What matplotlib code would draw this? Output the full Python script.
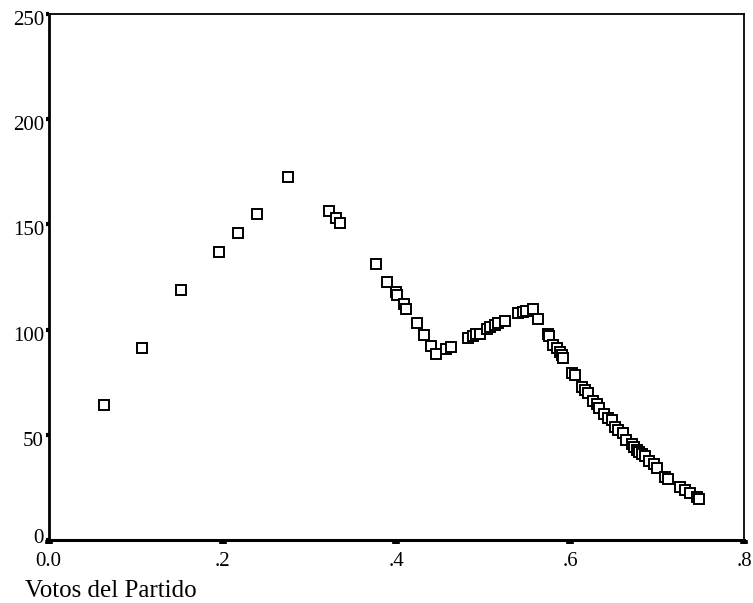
import matplotlib
matplotlib.use("Agg")
import matplotlib.pyplot as plt
import matplotlib.transforms as mtransforms

votos = [0.0633, 0.1077, 0.1519, 0.1960, 0.2178, 0.2400, 0.2754, 0.3222, 0.3303, 0.3356,
         0.3763, 0.3889, 0.3991, 0.4002, 0.4083, 0.4108, 0.4235, 0.4315, 0.4399, 0.4457,
         0.4572, 0.4626, 0.4829, 0.4879, 0.4917, 0.4957, 0.5040, 0.5078, 0.5136, 0.5174,
         0.5251, 0.5404, 0.5454, 0.5487, 0.5570, 0.5634, 0.5746, 0.5751, 0.5807, 0.5843,
         0.5878, 0.5901, 0.5912, 0.6027, 0.6051, 0.6137, 0.6171, 0.6210, 0.6267, 0.6306,
         0.6336, 0.6384, 0.6436, 0.6476, 0.6516, 0.6554, 0.6612, 0.6643, 0.6706, 0.6729,
         0.6764, 0.6787, 0.6824, 0.6862, 0.6911, 0.6965, 0.6996, 0.7092, 0.7130, 0.7265,
         0.7322, 0.7380, 0.7457, 0.7478]
valores = [64.0, 91.4, 118.7, 136.9, 145.9, 155.1, 172.5, 156.4, 153.2, 150.7,
           131.2, 122.8, 118.0, 116.4, 112.0, 110.0, 102.9, 97.4, 92.3, 88.2,
           91.0, 91.6, 95.8, 97.1, 97.7, 98.1, 100.5, 101.1, 102.4, 102.9,
           104.3, 107.7, 108.5, 108.8, 109.6, 105.0, 97.7, 97.0, 92.7, 91.1,
           89.5, 87.9, 86.7, 79.6, 78.4, 72.9, 71.5, 70.0, 66.2, 64.6,
           62.9, 60.1, 58.2, 56.8, 53.9, 52.3, 50.7, 47.3, 45.4, 44.4,
           43.0, 42.0, 41.1, 39.9, 37.7, 35.9, 34.1, 30.1, 29.2, 25.0,
           23.8, 22.2, 20.2, 19.7]

xticks = [0.0, 0.2, 0.4, 0.6, 0.8]
xticklabels = ["0.0", ".2", ".4", ".6", ".8"]
yticks = [0, 50, 100, 150, 200, 250]
yticklabels = ["0", "50", "100", "150", "200", "250"]
xlabel = "Votos del Partido"

plt.rcParams['font.family'] = ['Liberation Serif', 'DejaVu Serif']

fig = plt.figure(figsize=(7.53, 6.03), dpi=100)
ax = fig.add_axes([0.0647, 0.1045, 0.9233, 0.8723])
ax.plot(votos, valores, linestyle='none', marker='s', markersize=7.2,
        markerfacecolor='white', markeredgecolor='black', markeredgewidth=1.4,
        clip_on=False)
ax.set_xlim(0, 0.8)
ax.set_ylim(0, 250)
ax.set_xticks(xticks)
ax.set_xticklabels(xticklabels)
ax.set_yticks(yticks)
ax.set_yticklabels(yticklabels)

ax.spines['left'].set_linewidth(2.0)
ax.spines['bottom'].set_linewidth(2.2)
ax.spines['top'].set_linewidth(1.3)
ax.spines['right'].set_linewidth(1.3)

ax.tick_params(axis='y', direction='out', length=2.4, width=3.0, pad=1,
               labelsize=15, colors='black')
ax.tick_params(axis='x', direction='out', length=3.0, width=5.5, pad=6,
               labelsize=15, colors='black')

down = mtransforms.ScaledTranslation(0, -4 / 100, fig.dpi_scale_trans)
up = mtransforms.ScaledTranslation(0, 3.5 / 100, fig.dpi_scale_trans)
for i, lab in enumerate(ax.get_yticklabels()):
    lab.set_transform(lab.get_transform() + (up if i == 0 else down))

fig.text(25 / 753, 6 / 603, xlabel, fontsize=18, ha='left', va='baseline')

fig.savefig("out.png", dpi=100)
